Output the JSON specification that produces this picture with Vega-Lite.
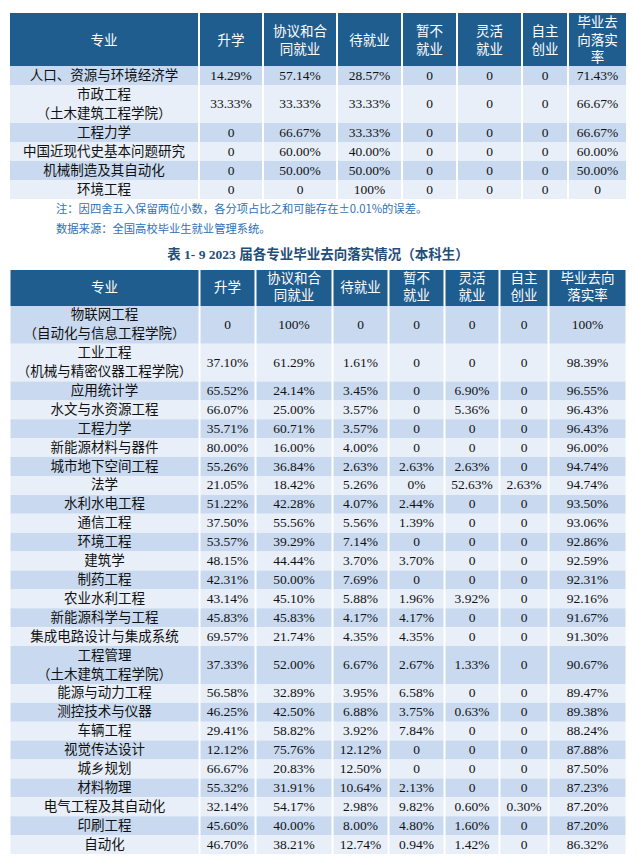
{
"$schema":"https://vega.github.io/schema/vega-lite/v6.json",
"background":"#FFFFFF",
"padding":{"left":10,"top":13,"right":0,"bottom":0},
"config":{"view":{"stroke":null},"axis":{"disable":true},"text":{"font":"Liberation Serif, Noto Sans CJK SC","fontSize":13.5,"color":"#111111","baseline":"middle","lineBreak":"\n","lineHeight":19}},
"datasets":{
"t1":[
{"i":1,"n":1,"m":"人口、资源与环境经济学","a":"14.29%","b":"57.14%","c":"28.57%","d":"0","e":"0","f":"0","g":"71.43%"},
{"i":2,"n":2,"m":"市政工程\n（土木建筑工程学院）","a":"33.33%","b":"33.33%","c":"33.33%","d":"0","e":"0","f":"0","g":"66.67%"},
{"i":3,"n":1,"m":"工程力学","a":"0","b":"66.67%","c":"33.33%","d":"0","e":"0","f":"0","g":"66.67%"},
{"i":4,"n":1,"m":"中国近现代史基本问题研究","a":"0","b":"60.00%","c":"40.00%","d":"0","e":"0","f":"0","g":"60.00%"},
{"i":5,"n":1,"m":"机械制造及其自动化","a":"0","b":"50.00%","c":"50.00%","d":"0","e":"0","f":"0","g":"50.00%"},
{"i":6,"n":1,"m":"环境工程","a":"0","b":"0","c":"100%","d":"0","e":"0","f":"0","g":"0"}
],
"t2":[
{"i":1,"n":2,"m":"物联网工程\n（自动化与信息工程学院）","a":"0","b":"100%","c":"0","d":"0","e":"0","f":"0","g":"100%"},
{"i":2,"n":2,"m":"工业工程\n（机械与精密仪器工程学院）","a":"37.10%","b":"61.29%","c":"1.61%","d":"0","e":"0","f":"0","g":"98.39%"},
{"i":3,"n":1,"m":"应用统计学","a":"65.52%","b":"24.14%","c":"3.45%","d":"0","e":"6.90%","f":"0","g":"96.55%"},
{"i":4,"n":1,"m":"水文与水资源工程","a":"66.07%","b":"25.00%","c":"3.57%","d":"0","e":"5.36%","f":"0","g":"96.43%"},
{"i":5,"n":1,"m":"工程力学","a":"35.71%","b":"60.71%","c":"3.57%","d":"0","e":"0","f":"0","g":"96.43%"},
{"i":6,"n":1,"m":"新能源材料与器件","a":"80.00%","b":"16.00%","c":"4.00%","d":"0","e":"0","f":"0","g":"96.00%"},
{"i":7,"n":1,"m":"城市地下空间工程","a":"55.26%","b":"36.84%","c":"2.63%","d":"2.63%","e":"2.63%","f":"0","g":"94.74%"},
{"i":8,"n":1,"m":"法学","a":"21.05%","b":"18.42%","c":"5.26%","d":"0%","e":"52.63%","f":"2.63%","g":"94.74%"},
{"i":9,"n":1,"m":"水利水电工程","a":"51.22%","b":"42.28%","c":"4.07%","d":"2.44%","e":"0","f":"0","g":"93.50%"},
{"i":10,"n":1,"m":"通信工程","a":"37.50%","b":"55.56%","c":"5.56%","d":"1.39%","e":"0","f":"0","g":"93.06%"},
{"i":11,"n":1,"m":"环境工程","a":"53.57%","b":"39.29%","c":"7.14%","d":"0","e":"0","f":"0","g":"92.86%"},
{"i":12,"n":1,"m":"建筑学","a":"48.15%","b":"44.44%","c":"3.70%","d":"3.70%","e":"0","f":"0","g":"92.59%"},
{"i":13,"n":1,"m":"制药工程","a":"42.31%","b":"50.00%","c":"7.69%","d":"0","e":"0","f":"0","g":"92.31%"},
{"i":14,"n":1,"m":"农业水利工程","a":"43.14%","b":"45.10%","c":"5.88%","d":"1.96%","e":"3.92%","f":"0","g":"92.16%"},
{"i":15,"n":1,"m":"新能源科学与工程","a":"45.83%","b":"45.83%","c":"4.17%","d":"4.17%","e":"0","f":"0","g":"91.67%"},
{"i":16,"n":1,"m":"集成电路设计与集成系统","a":"69.57%","b":"21.74%","c":"4.35%","d":"4.35%","e":"0","f":"0","g":"91.30%"},
{"i":17,"n":2,"m":"工程管理\n（土木建筑工程学院）","a":"37.33%","b":"52.00%","c":"6.67%","d":"2.67%","e":"1.33%","f":"0","g":"90.67%"},
{"i":18,"n":1,"m":"能源与动力工程","a":"56.58%","b":"32.89%","c":"3.95%","d":"6.58%","e":"0","f":"0","g":"89.47%"},
{"i":19,"n":1,"m":"测控技术与仪器","a":"46.25%","b":"42.50%","c":"6.88%","d":"3.75%","e":"0.63%","f":"0","g":"89.38%"},
{"i":20,"n":1,"m":"车辆工程","a":"29.41%","b":"58.82%","c":"3.92%","d":"7.84%","e":"0","f":"0","g":"88.24%"},
{"i":21,"n":1,"m":"视觉传达设计","a":"12.12%","b":"75.76%","c":"12.12%","d":"0","e":"0","f":"0","g":"87.88%"},
{"i":22,"n":1,"m":"城乡规划","a":"66.67%","b":"20.83%","c":"12.50%","d":"0","e":"0","f":"0","g":"87.50%"},
{"i":23,"n":1,"m":"材料物理","a":"55.32%","b":"31.91%","c":"10.64%","d":"2.13%","e":"0","f":"0","g":"87.23%"},
{"i":24,"n":1,"m":"电气工程及其自动化","a":"32.14%","b":"54.17%","c":"2.98%","d":"9.82%","e":"0.60%","f":"0.30%","g":"87.20%"},
{"i":25,"n":1,"m":"印刷工程","a":"45.60%","b":"40.00%","c":"8.00%","d":"4.80%","e":"1.60%","f":"0","g":"87.20%"},
{"i":26,"n":1,"m":"自动化","a":"46.70%","b":"38.21%","c":"12.74%","d":"0.94%","e":"1.42%","f":"0","g":"86.32%"}
]
},
"vconcat":[
{"hconcat":[
{"width":188,"height":186,"layer":[{"data":{"values":[{}]},"mark":{"type":"rect","color":"#1F5D8F"},"encoding":{"y":{"datum":-2.79,"type":"quantitative","scale":{"domain":[-2.79,7],"reverse":true,"nice":false,"zero":false},"axis":null},"y2":{"datum":0}}},{"data":{"values":[{}]},"mark":{"type":"text","text":"专业","color":"#FFFFFF","font":"Noto Sans CJK SC","lineHeight":17.5},"encoding":{"y":{"datum":-1.32,"type":"quantitative"}}},{"data":{"name":"t1"},"transform":[{"window":[{"op":"sum","field":"n","as":"y1"}],"sort":[{"field":"i"}]},{"calculate":"datum.y1-datum.n","as":"y0"},{"calculate":"datum.y0+0.5","as":"ym"}],"layer":[{"mark":"rect","encoding":{"y":{"field":"y0","type":"quantitative","scale":{"domain":[-2.79,7],"reverse":true,"nice":false,"zero":false},"axis":null},"y2":{"field":"y1"},"color":{"condition":{"test":"datum.i % 2 == 1","value":"#C9DAF0"},"value":"#E8EFF8"}}},{"mark":"text","encoding":{"y":{"field":"ym","type":"quantitative"},"text":{"field":"m"}}}]}]},
{"width":62,"height":186,"layer":[{"data":{"values":[{}]},"mark":{"type":"rect","color":"#1F5D8F"},"encoding":{"y":{"datum":-2.79,"type":"quantitative","scale":{"domain":[-2.79,7],"reverse":true,"nice":false,"zero":false},"axis":null},"y2":{"datum":0}}},{"data":{"values":[{}]},"mark":{"type":"text","text":"升学","color":"#FFFFFF","font":"Noto Sans CJK SC","lineHeight":17.5},"encoding":{"y":{"datum":-1.32,"type":"quantitative"}}},{"data":{"name":"t1"},"transform":[{"window":[{"op":"sum","field":"n","as":"y1"}],"sort":[{"field":"i"}]},{"calculate":"datum.y1-datum.n","as":"y0"},{"calculate":"datum.y1-datum.n/2","as":"ym"}],"layer":[{"mark":"rect","encoding":{"y":{"field":"y0","type":"quantitative","scale":{"domain":[-2.79,7],"reverse":true,"nice":false,"zero":false},"axis":null},"y2":{"field":"y1"},"color":{"condition":{"test":"datum.i % 2 == 1","value":"#C9DAF0"},"value":"#E8EFF8"}}},{"mark":"text","encoding":{"y":{"field":"ym","type":"quantitative"},"text":{"field":"a"}}}]}]},
{"width":72,"height":186,"layer":[{"data":{"values":[{}]},"mark":{"type":"rect","color":"#1F5D8F"},"encoding":{"y":{"datum":-2.79,"type":"quantitative","scale":{"domain":[-2.79,7],"reverse":true,"nice":false,"zero":false},"axis":null},"y2":{"datum":0}}},{"data":{"values":[{}]},"mark":{"type":"text","text":"协议和合\n同就业","color":"#FFFFFF","font":"Noto Sans CJK SC","lineHeight":17.5},"encoding":{"y":{"datum":-1.78,"type":"quantitative"}}},{"data":{"name":"t1"},"transform":[{"window":[{"op":"sum","field":"n","as":"y1"}],"sort":[{"field":"i"}]},{"calculate":"datum.y1-datum.n","as":"y0"},{"calculate":"datum.y1-datum.n/2","as":"ym"}],"layer":[{"mark":"rect","encoding":{"y":{"field":"y0","type":"quantitative","scale":{"domain":[-2.79,7],"reverse":true,"nice":false,"zero":false},"axis":null},"y2":{"field":"y1"},"color":{"condition":{"test":"datum.i % 2 == 1","value":"#C9DAF0"},"value":"#E8EFF8"}}},{"mark":"text","encoding":{"y":{"field":"ym","type":"quantitative"},"text":{"field":"b"}}}]}]},
{"width":63,"height":186,"layer":[{"data":{"values":[{}]},"mark":{"type":"rect","color":"#1F5D8F"},"encoding":{"y":{"datum":-2.79,"type":"quantitative","scale":{"domain":[-2.79,7],"reverse":true,"nice":false,"zero":false},"axis":null},"y2":{"datum":0}}},{"data":{"values":[{}]},"mark":{"type":"text","text":"待就业","color":"#FFFFFF","font":"Noto Sans CJK SC","lineHeight":17.5},"encoding":{"y":{"datum":-1.32,"type":"quantitative"}}},{"data":{"name":"t1"},"transform":[{"window":[{"op":"sum","field":"n","as":"y1"}],"sort":[{"field":"i"}]},{"calculate":"datum.y1-datum.n","as":"y0"},{"calculate":"datum.y1-datum.n/2","as":"ym"}],"layer":[{"mark":"rect","encoding":{"y":{"field":"y0","type":"quantitative","scale":{"domain":[-2.79,7],"reverse":true,"nice":false,"zero":false},"axis":null},"y2":{"field":"y1"},"color":{"condition":{"test":"datum.i % 2 == 1","value":"#C9DAF0"},"value":"#E8EFF8"}}},{"mark":"text","encoding":{"y":{"field":"ym","type":"quantitative"},"text":{"field":"c"}}}]}]},
{"width":53,"height":186,"layer":[{"data":{"values":[{}]},"mark":{"type":"rect","color":"#1F5D8F"},"encoding":{"y":{"datum":-2.79,"type":"quantitative","scale":{"domain":[-2.79,7],"reverse":true,"nice":false,"zero":false},"axis":null},"y2":{"datum":0}}},{"data":{"values":[{}]},"mark":{"type":"text","text":"暂不\n就业","color":"#FFFFFF","font":"Noto Sans CJK SC","lineHeight":17.5},"encoding":{"y":{"datum":-1.78,"type":"quantitative"}}},{"data":{"name":"t1"},"transform":[{"window":[{"op":"sum","field":"n","as":"y1"}],"sort":[{"field":"i"}]},{"calculate":"datum.y1-datum.n","as":"y0"},{"calculate":"datum.y1-datum.n/2","as":"ym"}],"layer":[{"mark":"rect","encoding":{"y":{"field":"y0","type":"quantitative","scale":{"domain":[-2.79,7],"reverse":true,"nice":false,"zero":false},"axis":null},"y2":{"field":"y1"},"color":{"condition":{"test":"datum.i % 2 == 1","value":"#C9DAF0"},"value":"#E8EFF8"}}},{"mark":"text","encoding":{"y":{"field":"ym","type":"quantitative"},"text":{"field":"d"}}}]}]},
{"width":63,"height":186,"layer":[{"data":{"values":[{}]},"mark":{"type":"rect","color":"#1F5D8F"},"encoding":{"y":{"datum":-2.79,"type":"quantitative","scale":{"domain":[-2.79,7],"reverse":true,"nice":false,"zero":false},"axis":null},"y2":{"datum":0}}},{"data":{"values":[{}]},"mark":{"type":"text","text":"灵活\n就业","color":"#FFFFFF","font":"Noto Sans CJK SC","lineHeight":17.5},"encoding":{"y":{"datum":-1.78,"type":"quantitative"}}},{"data":{"name":"t1"},"transform":[{"window":[{"op":"sum","field":"n","as":"y1"}],"sort":[{"field":"i"}]},{"calculate":"datum.y1-datum.n","as":"y0"},{"calculate":"datum.y1-datum.n/2","as":"ym"}],"layer":[{"mark":"rect","encoding":{"y":{"field":"y0","type":"quantitative","scale":{"domain":[-2.79,7],"reverse":true,"nice":false,"zero":false},"axis":null},"y2":{"field":"y1"},"color":{"condition":{"test":"datum.i % 2 == 1","value":"#C9DAF0"},"value":"#E8EFF8"}}},{"mark":"text","encoding":{"y":{"field":"ym","type":"quantitative"},"text":{"field":"e"}}}]}]},
{"width":44,"height":186,"layer":[{"data":{"values":[{}]},"mark":{"type":"rect","color":"#1F5D8F"},"encoding":{"y":{"datum":-2.79,"type":"quantitative","scale":{"domain":[-2.79,7],"reverse":true,"nice":false,"zero":false},"axis":null},"y2":{"datum":0}}},{"data":{"values":[{}]},"mark":{"type":"text","text":"自主\n创业","color":"#FFFFFF","font":"Noto Sans CJK SC","lineHeight":17.5},"encoding":{"y":{"datum":-1.78,"type":"quantitative"}}},{"data":{"name":"t1"},"transform":[{"window":[{"op":"sum","field":"n","as":"y1"}],"sort":[{"field":"i"}]},{"calculate":"datum.y1-datum.n","as":"y0"},{"calculate":"datum.y1-datum.n/2","as":"ym"}],"layer":[{"mark":"rect","encoding":{"y":{"field":"y0","type":"quantitative","scale":{"domain":[-2.79,7],"reverse":true,"nice":false,"zero":false},"axis":null},"y2":{"field":"y1"},"color":{"condition":{"test":"datum.i % 2 == 1","value":"#C9DAF0"},"value":"#E8EFF8"}}},{"mark":"text","encoding":{"y":{"field":"ym","type":"quantitative"},"text":{"field":"f"}}}]}]},
{"width":57,"height":186,"layer":[{"data":{"values":[{}]},"mark":{"type":"rect","color":"#1F5D8F"},"encoding":{"y":{"datum":-2.79,"type":"quantitative","scale":{"domain":[-2.79,7],"reverse":true,"nice":false,"zero":false},"axis":null},"y2":{"datum":0}}},{"data":{"values":[{}]},"mark":{"type":"text","text":"毕业去\n向落实\n率","color":"#FFFFFF","font":"Noto Sans CJK SC","lineHeight":17.5},"encoding":{"y":{"datum":-2.24,"type":"quantitative"}}},{"data":{"name":"t1"},"transform":[{"window":[{"op":"sum","field":"n","as":"y1"}],"sort":[{"field":"i"}]},{"calculate":"datum.y1-datum.n","as":"y0"},{"calculate":"datum.y1-datum.n/2","as":"ym"}],"layer":[{"mark":"rect","encoding":{"y":{"field":"y0","type":"quantitative","scale":{"domain":[-2.79,7],"reverse":true,"nice":false,"zero":false},"axis":null},"y2":{"field":"y1"},"color":{"condition":{"test":"datum.i % 2 == 1","value":"#C9DAF0"},"value":"#E8EFF8"}}},{"mark":"text","encoding":{"y":{"field":"ym","type":"quantitative"},"text":{"field":"g"}}}]}]}
],"spacing":2,"bounds":"flush"},
{"width":524,"height":48,"data":{"values":[{"k":1,"t":"注：因四舍五入保留两位小数，各分项占比之和可能存在±0.01%的误差。"},{"k":2,"t":"数据来源：全国高校毕业生就业管理系统。"}]},"mark":{"type":"text","align":"left","color":"#2F6FB5","font":"Noto Sans CJK SC","fontSize":11.3},"encoding":{"x":{"datum":0,"type":"quantitative","scale":{"domain":[0,1]},"axis":null},"y":{"field":"k","type":"ordinal","scale":{"type":"point","padding":0.7,"align":0.41},"axis":null},"text":{"field":"t"}}},
{"title":{"text":"表 1- 9  2023 届各专业毕业去向落实情况（本科生）","anchor":"middle","font":"Liberation Serif, Noto Sans CJK SC","fontSize":13.5,"fontWeight":"bold","color":"#1F4E79","offset":9},
"hconcat":[
{"width":188,"height":584,"layer":[{"data":{"values":[{}]},"mark":{"type":"rect","color":"#1F5D8F"},"encoding":{"y":{"datum":-1.9,"type":"quantitative","scale":{"domain":[-1.9,29],"reverse":true,"nice":false,"zero":false},"axis":null},"y2":{"datum":0}}},{"data":{"values":[{}]},"mark":{"type":"text","text":"专业","color":"#FFFFFF","font":"Noto Sans CJK SC","lineHeight":17},"encoding":{"y":{"datum":-0.95,"type":"quantitative"}}},{"data":{"name":"t2"},"transform":[{"window":[{"op":"sum","field":"n","as":"y1"}],"sort":[{"field":"i"}]},{"calculate":"datum.y1-datum.n","as":"y0"},{"calculate":"datum.y0+0.5","as":"ym"}],"layer":[{"mark":"rect","encoding":{"y":{"field":"y0","type":"quantitative","scale":{"domain":[-1.9,29],"reverse":true,"nice":false,"zero":false},"axis":null},"y2":{"field":"y1"},"color":{"condition":{"test":"datum.i % 2 == 1","value":"#C9DAF0"},"value":"#E8EFF8"}}},{"mark":"text","encoding":{"y":{"field":"ym","type":"quantitative"},"text":{"field":"m"}}}]}]},
{"width":54,"height":584,"layer":[{"data":{"values":[{}]},"mark":{"type":"rect","color":"#1F5D8F"},"encoding":{"y":{"datum":-1.9,"type":"quantitative","scale":{"domain":[-1.9,29],"reverse":true,"nice":false,"zero":false},"axis":null},"y2":{"datum":0}}},{"data":{"values":[{}]},"mark":{"type":"text","text":"升学","color":"#FFFFFF","font":"Noto Sans CJK SC","lineHeight":17},"encoding":{"y":{"datum":-0.95,"type":"quantitative"}}},{"data":{"name":"t2"},"transform":[{"window":[{"op":"sum","field":"n","as":"y1"}],"sort":[{"field":"i"}]},{"calculate":"datum.y1-datum.n","as":"y0"},{"calculate":"datum.y1-datum.n/2","as":"ym"}],"layer":[{"mark":"rect","encoding":{"y":{"field":"y0","type":"quantitative","scale":{"domain":[-1.9,29],"reverse":true,"nice":false,"zero":false},"axis":null},"y2":{"field":"y1"},"color":{"condition":{"test":"datum.i % 2 == 1","value":"#C9DAF0"},"value":"#E8EFF8"}}},{"mark":"text","encoding":{"y":{"field":"ym","type":"quantitative"},"text":{"field":"a"}}}]}]},
{"width":75,"height":584,"layer":[{"data":{"values":[{}]},"mark":{"type":"rect","color":"#1F5D8F"},"encoding":{"y":{"datum":-1.9,"type":"quantitative","scale":{"domain":[-1.9,29],"reverse":true,"nice":false,"zero":false},"axis":null},"y2":{"datum":0}}},{"data":{"values":[{}]},"mark":{"type":"text","text":"协议和合\n同就业","color":"#FFFFFF","font":"Noto Sans CJK SC","lineHeight":17},"encoding":{"y":{"datum":-1.4,"type":"quantitative"}}},{"data":{"name":"t2"},"transform":[{"window":[{"op":"sum","field":"n","as":"y1"}],"sort":[{"field":"i"}]},{"calculate":"datum.y1-datum.n","as":"y0"},{"calculate":"datum.y1-datum.n/2","as":"ym"}],"layer":[{"mark":"rect","encoding":{"y":{"field":"y0","type":"quantitative","scale":{"domain":[-1.9,29],"reverse":true,"nice":false,"zero":false},"axis":null},"y2":{"field":"y1"},"color":{"condition":{"test":"datum.i % 2 == 1","value":"#C9DAF0"},"value":"#E8EFF8"}}},{"mark":"text","encoding":{"y":{"field":"ym","type":"quantitative"},"text":{"field":"b"}}}]}]},
{"width":54,"height":584,"layer":[{"data":{"values":[{}]},"mark":{"type":"rect","color":"#1F5D8F"},"encoding":{"y":{"datum":-1.9,"type":"quantitative","scale":{"domain":[-1.9,29],"reverse":true,"nice":false,"zero":false},"axis":null},"y2":{"datum":0}}},{"data":{"values":[{}]},"mark":{"type":"text","text":"待就业","color":"#FFFFFF","font":"Noto Sans CJK SC","lineHeight":17},"encoding":{"y":{"datum":-0.95,"type":"quantitative"}}},{"data":{"name":"t2"},"transform":[{"window":[{"op":"sum","field":"n","as":"y1"}],"sort":[{"field":"i"}]},{"calculate":"datum.y1-datum.n","as":"y0"},{"calculate":"datum.y1-datum.n/2","as":"ym"}],"layer":[{"mark":"rect","encoding":{"y":{"field":"y0","type":"quantitative","scale":{"domain":[-1.9,29],"reverse":true,"nice":false,"zero":false},"axis":null},"y2":{"field":"y1"},"color":{"condition":{"test":"datum.i % 2 == 1","value":"#C9DAF0"},"value":"#E8EFF8"}}},{"mark":"text","encoding":{"y":{"field":"ym","type":"quantitative"},"text":{"field":"c"}}}]}]},
{"width":54,"height":584,"layer":[{"data":{"values":[{}]},"mark":{"type":"rect","color":"#1F5D8F"},"encoding":{"y":{"datum":-1.9,"type":"quantitative","scale":{"domain":[-1.9,29],"reverse":true,"nice":false,"zero":false},"axis":null},"y2":{"datum":0}}},{"data":{"values":[{}]},"mark":{"type":"text","text":"暂不\n就业","color":"#FFFFFF","font":"Noto Sans CJK SC","lineHeight":17},"encoding":{"y":{"datum":-1.4,"type":"quantitative"}}},{"data":{"name":"t2"},"transform":[{"window":[{"op":"sum","field":"n","as":"y1"}],"sort":[{"field":"i"}]},{"calculate":"datum.y1-datum.n","as":"y0"},{"calculate":"datum.y1-datum.n/2","as":"ym"}],"layer":[{"mark":"rect","encoding":{"y":{"field":"y0","type":"quantitative","scale":{"domain":[-1.9,29],"reverse":true,"nice":false,"zero":false},"axis":null},"y2":{"field":"y1"},"color":{"condition":{"test":"datum.i % 2 == 1","value":"#C9DAF0"},"value":"#E8EFF8"}}},{"mark":"text","encoding":{"y":{"field":"ym","type":"quantitative"},"text":{"field":"d"}}}]}]},
{"width":53,"height":584,"layer":[{"data":{"values":[{}]},"mark":{"type":"rect","color":"#1F5D8F"},"encoding":{"y":{"datum":-1.9,"type":"quantitative","scale":{"domain":[-1.9,29],"reverse":true,"nice":false,"zero":false},"axis":null},"y2":{"datum":0}}},{"data":{"values":[{}]},"mark":{"type":"text","text":"灵活\n就业","color":"#FFFFFF","font":"Noto Sans CJK SC","lineHeight":17},"encoding":{"y":{"datum":-1.4,"type":"quantitative"}}},{"data":{"name":"t2"},"transform":[{"window":[{"op":"sum","field":"n","as":"y1"}],"sort":[{"field":"i"}]},{"calculate":"datum.y1-datum.n","as":"y0"},{"calculate":"datum.y1-datum.n/2","as":"ym"}],"layer":[{"mark":"rect","encoding":{"y":{"field":"y0","type":"quantitative","scale":{"domain":[-1.9,29],"reverse":true,"nice":false,"zero":false},"axis":null},"y2":{"field":"y1"},"color":{"condition":{"test":"datum.i % 2 == 1","value":"#C9DAF0"},"value":"#E8EFF8"}}},{"mark":"text","encoding":{"y":{"field":"ym","type":"quantitative"},"text":{"field":"e"}}}]}]},
{"width":47,"height":584,"layer":[{"data":{"values":[{}]},"mark":{"type":"rect","color":"#1F5D8F"},"encoding":{"y":{"datum":-1.9,"type":"quantitative","scale":{"domain":[-1.9,29],"reverse":true,"nice":false,"zero":false},"axis":null},"y2":{"datum":0}}},{"data":{"values":[{}]},"mark":{"type":"text","text":"自主\n创业","color":"#FFFFFF","font":"Noto Sans CJK SC","lineHeight":17},"encoding":{"y":{"datum":-1.4,"type":"quantitative"}}},{"data":{"name":"t2"},"transform":[{"window":[{"op":"sum","field":"n","as":"y1"}],"sort":[{"field":"i"}]},{"calculate":"datum.y1-datum.n","as":"y0"},{"calculate":"datum.y1-datum.n/2","as":"ym"}],"layer":[{"mark":"rect","encoding":{"y":{"field":"y0","type":"quantitative","scale":{"domain":[-1.9,29],"reverse":true,"nice":false,"zero":false},"axis":null},"y2":{"field":"y1"},"color":{"condition":{"test":"datum.i % 2 == 1","value":"#C9DAF0"},"value":"#E8EFF8"}}},{"mark":"text","encoding":{"y":{"field":"ym","type":"quantitative"},"text":{"field":"f"}}}]}]},
{"width":76,"height":584,"layer":[{"data":{"values":[{}]},"mark":{"type":"rect","color":"#1F5D8F"},"encoding":{"y":{"datum":-1.9,"type":"quantitative","scale":{"domain":[-1.9,29],"reverse":true,"nice":false,"zero":false},"axis":null},"y2":{"datum":0}}},{"data":{"values":[{}]},"mark":{"type":"text","text":"毕业去向\n落实率","color":"#FFFFFF","font":"Noto Sans CJK SC","lineHeight":17},"encoding":{"y":{"datum":-1.4,"type":"quantitative"}}},{"data":{"name":"t2"},"transform":[{"window":[{"op":"sum","field":"n","as":"y1"}],"sort":[{"field":"i"}]},{"calculate":"datum.y1-datum.n","as":"y0"},{"calculate":"datum.y1-datum.n/2","as":"ym"}],"layer":[{"mark":"rect","encoding":{"y":{"field":"y0","type":"quantitative","scale":{"domain":[-1.9,29],"reverse":true,"nice":false,"zero":false},"axis":null},"y2":{"field":"y1"},"color":{"condition":{"test":"datum.i % 2 == 1","value":"#C9DAF0"},"value":"#E8EFF8"}}},{"mark":"text","encoding":{"y":{"field":"ym","type":"quantitative"},"text":{"field":"g"}}}]}]}
],"spacing":2,"bounds":"flush"}
],
"spacing":0,
"center":true
}
